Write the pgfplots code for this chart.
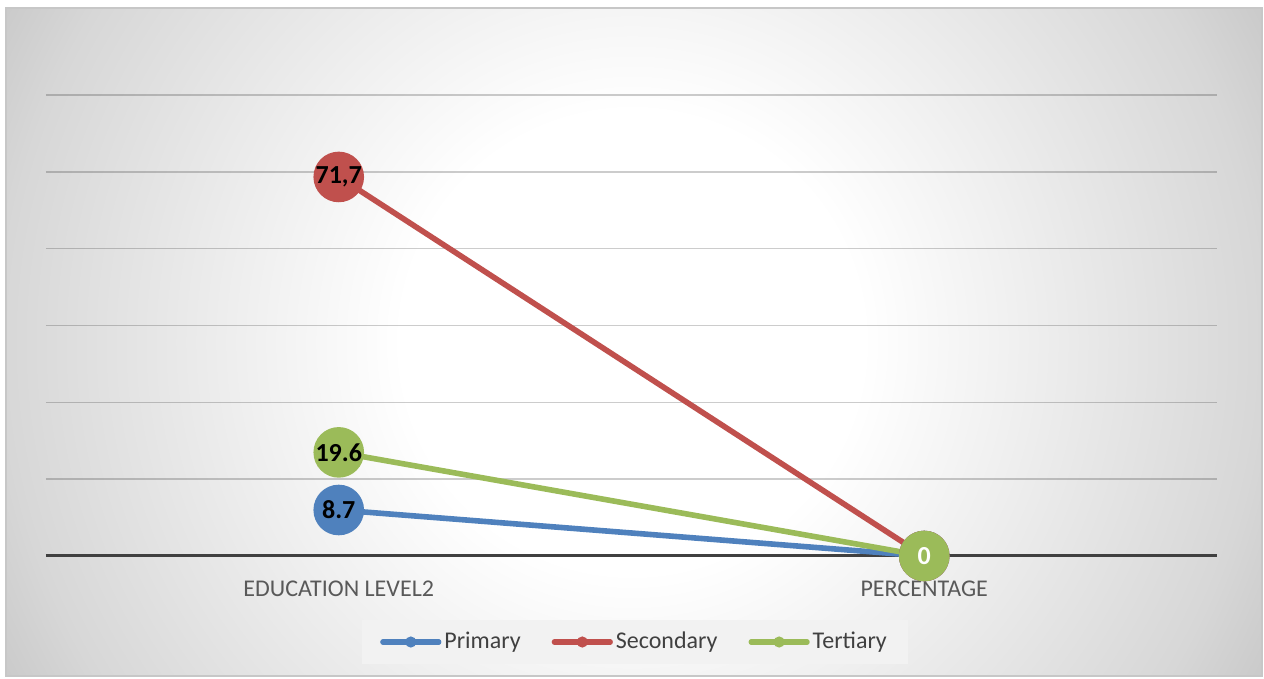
\documentclass[border=0pt]{standalone}
\usepackage{pgfplots}
\pgfplotsset{compat=1.18}
\usepackage{fontspec}
\setmainfont{Carlito}
\definecolor{cPri}{HTML}{4F81BD}
\definecolor{cSec}{HTML}{C0504D}
\definecolor{cTer}{HTML}{9BBB59}
\definecolor{bgA}{HTML}{F5F5F5}
\definecolor{bgB}{HTML}{E6E6E6}
\definecolor{bgC}{HTML}{D7D7D7}
\definecolor{bgD}{HTML}{C9C9C9}
\definecolor{legfill}{HTML}{F2F2F2}
\pgfdeclareradialshading{chartbg}{\pgfpoint{0bp}{0bp}}{color(0bp)=(white); color(8bp)=(white); color(11.5bp)=(bgA); color(16.7bp)=(bgB); color(21.9bp)=(bgC); color(25bp)=(bgD); color(50bp)=(bgD)}
\begin{document}
\begin{tikzpicture}
\useasboundingbox (0,0) rectangle (632pt,339.5pt);
\fill[white] (0,0) rectangle (632pt,339.5pt);
\begin{scope}
\clip (3pt,1.5pt) rectangle (631pt,335.5pt);
\shade[shading=chartbg] (-44pt,-191.5pt) rectangle (676pt,528.5pt);
\end{scope}
\draw[black!22, line width=0.6pt] (3pt,1.5pt) rectangle (631pt,335.5pt);
\begin{axis}[
  at={(23pt,61.5pt)}, anchor=south west,
  scale only axis, width=585.5pt, height=230.5pt,
  xmin=-0.5, xmax=1.5, ymin=0, ymax=87.2,
  xtick={0,1}, xticklabels={EDUCATION LEVEL2, PERCENTAGE},
  ytick={14.533,29.067,43.6,58.133,72.667,87.2},
  yticklabels={},
  ymajorgrids,
  grid style={black, opacity=0.2, line width=0.7pt},
  extra y ticks={0}, extra y tick labels={},
  extra y tick style={grid=major, grid style={color=black!75, opacity=1, line width=1.5pt}},
  axis line style={draw=none},
  major tick length=0pt,
  tick style={draw=none},
  xticklabel style={font=\fontsize{12}{14}\selectfont, text=black!65, yshift=-9pt},
  clip=false,
  legend columns=3,
  legend style={at={(0.503,-0.1866)}, anchor=center, draw=none, fill=legfill,
    font=\fontsize{12}{14}\selectfont, text=black!75,
    inner xsep=9pt, inner ysep=4pt,
    /tikz/every even column/.append style={column sep=14pt},
    nodes={inner xsep=1.5pt}},
  legend image code/.code={\draw[#1, line width=2.6pt, line cap=round, mark=none] (0pt,0pt) -- (28pt,0pt); \fill[#1, draw=none] (14pt,0pt) circle (2.8pt);},
  nodes near coords={\pgfplotspointmeta},
  point meta=explicit symbolic,
  nodes near coords style={anchor=center, font=\fontsize{13}{15}\selectfont\bfseries, text=black},
]
\addplot[color=cPri, line width=2.8pt, mark=*, mark size=11.25pt, mark options={draw=none, fill=cPri}]
  coordinates {(0,8.7) [8.7] (1,0) [\relax]};
\addlegendentry{Primary}
\addplot[color=cSec, line width=2.8pt, mark=*, mark size=11.25pt, mark options={draw=none, fill=cSec}]
  coordinates {(0,71.7) [{71,7}] (1,0) [\relax]};
\addlegendentry{Secondary}
\addplot[color=cTer, line width=2.8pt, mark=*, mark size=11.25pt, mark options={draw=none, fill=cTer}]
  coordinates {(0,19.6) [19.6] (1,0) [\textcolor{white}{0}]};
\addlegendentry{Tertiary}
\end{axis}
\end{tikzpicture}
\end{document}
